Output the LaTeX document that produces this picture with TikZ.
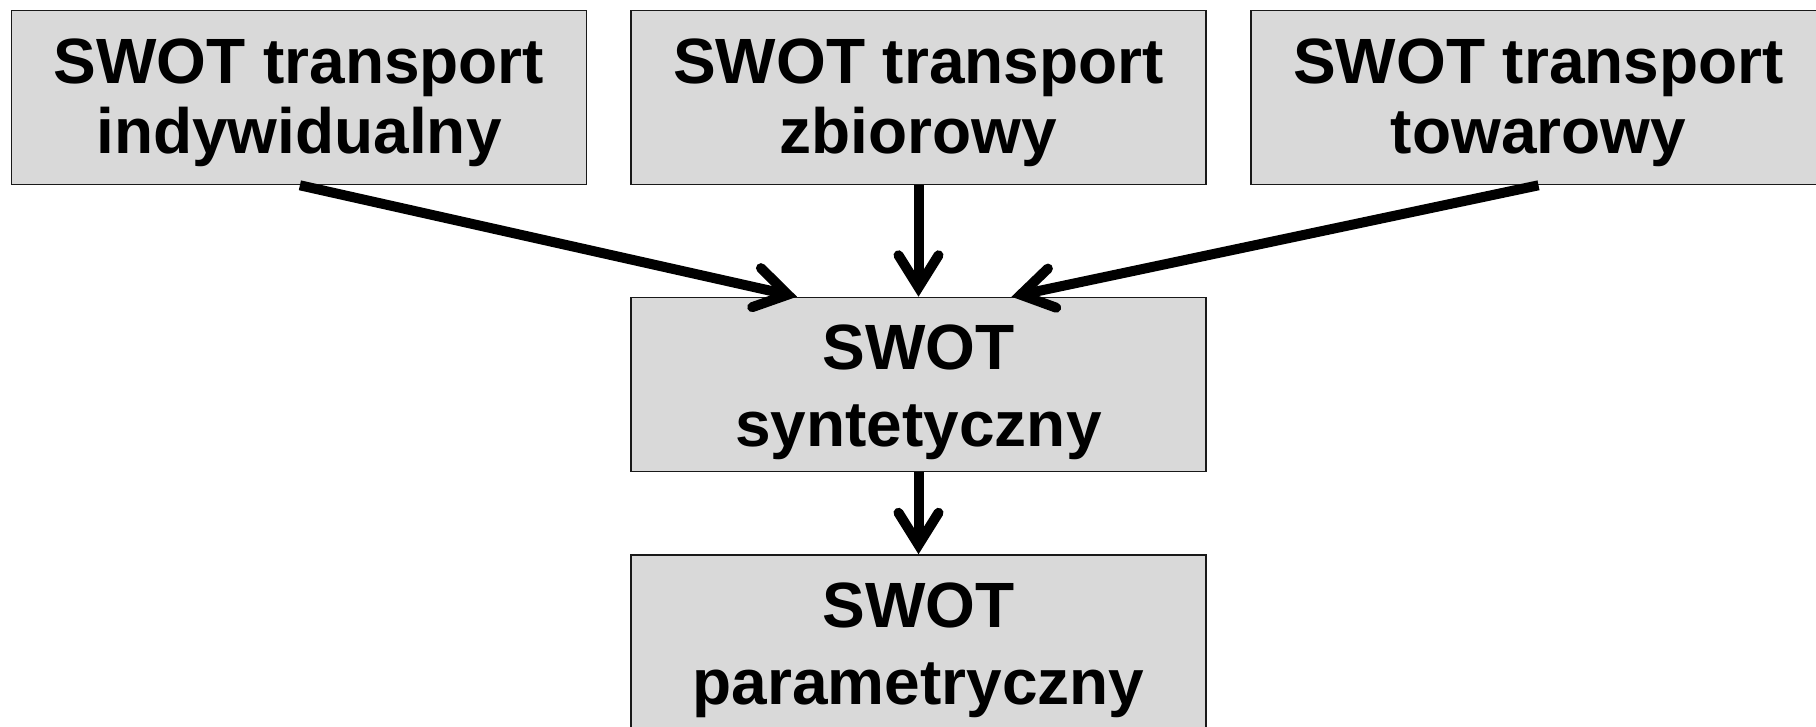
\documentclass[tikz,border=0pt]{standalone}
\usepackage{fontspec}
\setmainfont{Liberation Sans}
\usetikzlibrary{arrows.meta,calc}
\definecolor{boxfill}{RGB}{217,217,217}
\definecolor{boxline}{RGB}{25,25,25}

\begin{document}
\begin{tikzpicture}[x=1pt,y=-1pt,
  box/.style={draw=boxline, line width=1.6pt, fill=boxfill,
    minimum width=575pt, minimum height=174pt, inner sep=0pt,
    align=center},
  toprow/.style={box, font=\fontsize{64}{70}\selectfont\bfseries,
    text height=124.5pt, text depth=13.5pt},
  lowrow/.style={box, font=\fontsize{64}{77}\selectfont\bfseries,
    text height=137.5pt, text depth=13.5pt},
  conn/.style={line width=10pt,
    -{Straight Barb[length=32pt, width=40pt, line cap=round, line join=miter]}}
]
\useasboundingbox (0,0) rectangle (1816,726);
\clip (0,0) rectangle (1816,726);

% source analyses
\node[toprow] (ind) at (298.9,97.5) {SWOT transport\\indywidualny};
\node[toprow] (zbi) at (918.5,97.5) {SWOT transport\\zbiorowy};
\node[toprow] (tow) at (1538.5,97.5) {SWOT transport\\towarowy};

% combined and parametric analyses
\node[lowrow] (syn) at (918.5,384.5) {SWOT\\syntetyczny};
\node[lowrow] (par) at (918.5,642) {SWOT\\parametryczny};

% connectors
\draw[conn] ($(ind.south)+(1,0)$) -- ($(syn.north)+(-121.5,0)$);
\draw[conn] (zbi.south) -- (syn.north);
\draw[conn] (tow.south) -- ($(syn.north)+(93,0)$);
\draw[conn] (syn.south) -- (par.north);
\end{tikzpicture}
\end{document}
